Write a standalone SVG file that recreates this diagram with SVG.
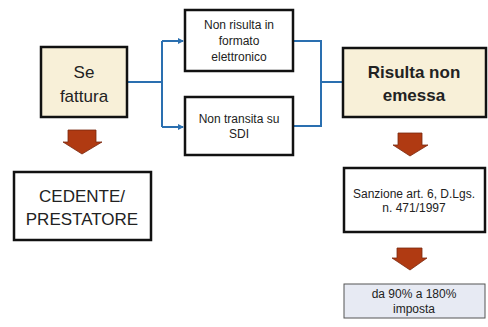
<svg xmlns="http://www.w3.org/2000/svg" width="488" height="327" viewBox="0 0 488 327">
<defs>
<style>
.box{stroke:#111;stroke-width:2.5;}
.beige{fill:#F8F0D8;}
.white{fill:#FFFFFF;}
.light{fill:#E7EAF3;stroke:#555;stroke-width:1;}
.t{font-family:"Liberation Sans",Arial,sans-serif;fill:#222;text-anchor:middle;}
.big{font-size:17px;}
.bold{font-weight:bold;}
.small{font-size:12px;}
.conn{fill:none;stroke:#2A6FB0;stroke-width:2;}
.darrow{fill:#B03A12;stroke:#7A2A10;stroke-width:0.8;}
</style>
<marker id="ah" markerWidth="6" markerHeight="6" refX="5" refY="3" orient="auto" markerUnits="userSpaceOnUse">
<path d="M0,0 L6,3 L0,6 Z" fill="#2A6FB0"/>
</marker>
</defs>
<rect width="488" height="327" fill="#FFFFFF"/>

<g id="connectors">
<path class="conn" d="M127,82 H162"/>
<path class="conn" d="M162,41 V127"/>
<path class="conn" d="M162,41 H183" marker-end="url(#ah)"/>
<path class="conn" d="M162,127 H183" marker-end="url(#ah)"/>
<path class="conn" d="M293,41 H321 V126 H293"/>
<path class="conn" d="M321,82 H343"/>
<path class="darrow" d="M68,130 H96 V142 H102 L82,154 L63,142 H68 Z"/>
<path class="darrow" d="M398,133 H422 V145 H428 L410,156 L393,145 H398 Z"/>
<path class="darrow" d="M397,248 H422 V258 H427 L410,270 L392,258 H397 Z"/>
</g>

<g id="node-se-fattura">
<rect class="box beige" x="41" y="47" width="86" height="70"/>
<text class="t big" x="84" y="78">Se</text>
<text class="t big" x="84" y="102">fattura</text>
</g>

<g id="node-non-risulta">
<rect class="box white" x="185" y="10" width="108" height="61"/>
<text class="t small" x="239" y="29">Non risulta in</text>
<text class="t small" x="239" y="45">formato</text>
<text class="t small" x="239" y="61">elettronico</text>
</g>

<g id="node-non-transita">
<rect class="box white" x="185" y="97" width="108" height="58"/>
<text class="t small" x="239" y="123">Non transita su</text>
<text class="t small" x="239" y="138">SDI</text>
</g>

<g id="node-risulta-non-emessa">
<rect class="box beige" x="343" y="48" width="143" height="69"/>
<text class="t big bold" x="414" y="78">Risulta non</text>
<text class="t big bold" x="414" y="101">emessa</text>
</g>

<g id="node-cedente">
<rect class="box white" x="14" y="172" width="137" height="68"/>
<text class="t big" x="82" y="202">CEDENTE/</text>
<text class="t big" x="82" y="225">PRESTATORE</text>
</g>

<g id="node-sanzione">
<rect class="box white" x="344" y="168" width="141" height="64"/>
<text class="t small" x="414" y="198">Sanzione art. 6, D.Lgs.</text>
<text class="t small" x="414" y="212">n. 471/1997</text>
</g>

<g id="node-da-90">
<rect class="light" x="344" y="284" width="141" height="34"/>
<text class="t small" x="414" y="298">da 90% a 180%</text>
<text class="t small" x="414" y="313">imposta</text>
</g>
</svg>
